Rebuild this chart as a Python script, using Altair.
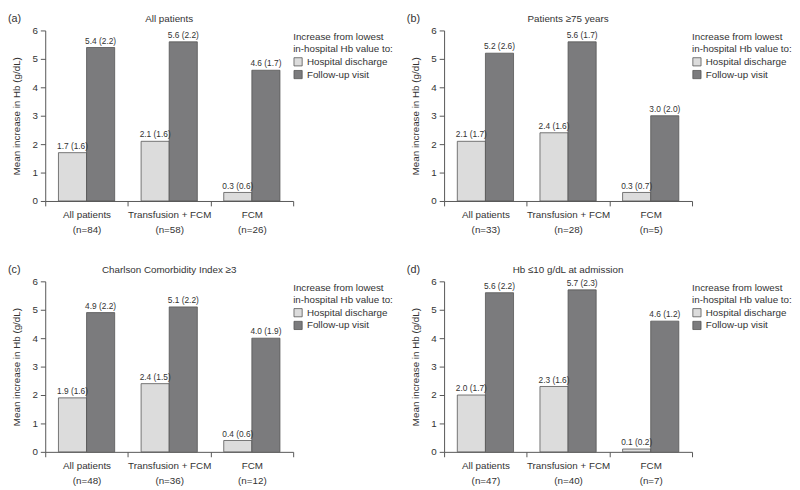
import altair as alt
import pandas as pd

panel_letters = ["(a)", "(b)", "(c)", "(d)"]
panel_titles = ["All patients", "Patients \u226575 years",
                "Charlson Comorbidity Index \u22653", "Hb \u226410 g/dL at admission"]
groups = ["All patients", "Transfusion + FCM", "FCM"]
n_values = [[84, 58, 26], [33, 28, 5], [48, 36, 12], [47, 40, 7]]
series = ["Hospital discharge", "Follow-up visit"]
discharge_mean = [[1.7, 2.1, 0.3], [2.1, 2.4, 0.3], [1.9, 2.4, 0.4], [2.0, 2.3, 0.1]]
discharge_sd = [[1.6, 1.6, 0.6], [1.7, 1.6, 0.7], [1.6, 1.5, 0.6], [1.7, 1.6, 0.2]]
followup_mean = [[5.4, 5.6, 4.6], [5.2, 5.6, 3.0], [4.9, 5.1, 4.0], [5.6, 5.7, 4.6]]
followup_sd = [[2.2, 2.2, 1.7], [2.6, 1.7, 2.0], [2.2, 2.2, 1.9], [2.2, 2.3, 1.2]]
y_ticks = [0, 1, 2, 3, 4, 5, 6]
legend_title = ["Increase from lowest", "in-hospital Hb value to:"]
colors = ["#dcdcdc", "#7b7b7d"]

FONT = "Liberation Sans"
W, H = 253, 174


def panel(i):
    cats = [f"{g}|(n={n})" for g, n in zip(groups, n_values[i])]
    rows = []
    for j, c in enumerate(cats):
        rows.append({"cat": c, "series": series[0], "value": discharge_mean[i][j],
                     "label": f"{discharge_mean[i][j]:.1f} ({discharge_sd[i][j]:.1f})"})
        rows.append({"cat": c, "series": series[1], "value": followup_mean[i][j],
                     "label": f"{followup_mean[i][j]:.1f} ({followup_sd[i][j]:.1f})"})
    df = pd.DataFrame(rows)
    base = alt.Chart(df)
    x = alt.X("cat:N", sort=cats,
              scale=alt.Scale(paddingInner=0, paddingOuter=0),
              axis=alt.Axis(title=None, labelAngle=0, labelExpr="split(datum.label, '|')",
                            tickBand="extent", tickSize=5, labelPadding=4,
                            labelFontSize=10, labelLineHeight=15))
    xo = alt.XOffset("series:N", sort=series,
                     scale=alt.Scale(paddingInner=0, paddingOuter=0.47))
    y = alt.Y("value:Q", scale=alt.Scale(domain=[0, 6], nice=False),
              axis=alt.Axis(values=y_ticks, title="Mean increase in Hb (g/dL)", grid=False,
                            tickSize=5, labelPadding=3, labelFontSize=10,
                            titleFontSize=10, titleFontWeight="normal", titlePadding=11))
    color = alt.Color("series:N", sort=series,
                      scale=alt.Scale(domain=series, range=colors),
                      legend=alt.Legend(title=legend_title, orient="none",
                                        legendX=W, legendY=2))
    bars = base.mark_bar(stroke="#555555", strokeWidth=0.8).encode(x=x, xOffset=xo, y=y, color=color)
    text = base.mark_text(dy=-7, fontSize=8.5, color="#333333", font=FONT).encode(
        x=x, xOffset=xo, y=y, text="label:N")
    head = pd.DataFrame({"letter": [panel_letters[i]], "title": [panel_titles[i]]})
    letter = alt.Chart(head).mark_text(
        align="left", baseline="middle", fontSize=11, color="#333333", font=FONT
    ).encode(x=alt.value(-38), y=alt.value(-12), text="letter:N")
    title = alt.Chart(head).mark_text(
        align="center", baseline="middle", fontSize=10, color="#333333", font=FONT
    ).encode(x=alt.value(W / 2), y=alt.value(-12), text="title:N")
    return alt.layer(bars, text, letter, title).properties(width=W, height=H)


top = alt.hconcat(panel(0), panel(1), spacing=14).resolve_scale(
    x="independent", y="independent", color="independent")
bottom = alt.hconcat(panel(2), panel(3), spacing=14).resolve_scale(
    x="independent", y="independent", color="independent")
chart = alt.vconcat(top, bottom, spacing=30).resolve_scale(
    x="independent", y="independent", color="independent"
).properties(padding=0).configure_view(stroke=None).configure_axis(
    domainColor="#555555", tickColor="#555555", labelColor="#333333", titleColor="#333333",
    labelFont=FONT, titleFont=FONT
).configure_legend(
    titleFont=FONT, labelFont=FONT, titleFontSize=10, titleFontWeight="normal",
    titleColor="#333333", labelColor="#333333", labelFontSize=10,
    symbolType="square", symbolSize=70, symbolStrokeColor="#555555", symbolStrokeWidth=0.8,
    titleLimit=300, labelLimit=300, rowPadding=1, titlePadding=3, padding=0
)

chart.save("out.html", embed_options={"renderer": "svg", "actions": False})
